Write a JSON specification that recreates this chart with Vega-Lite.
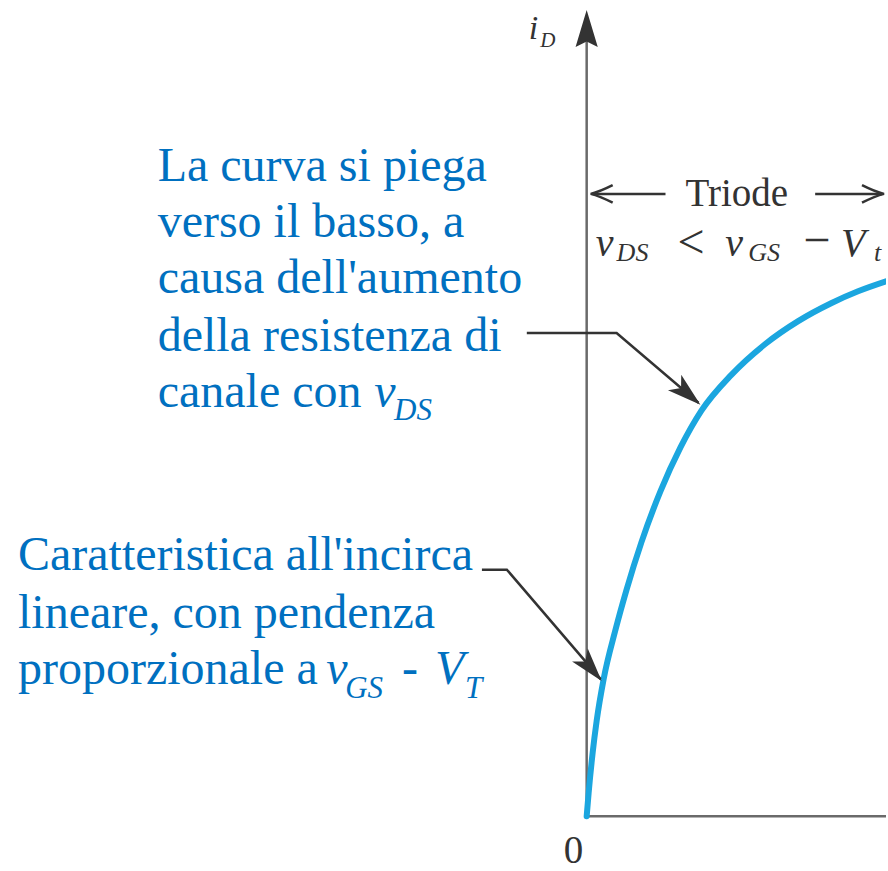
{
  "$schema": "https://vega.github.io/schema/vega-lite/v6.json",
  "width": 888,
  "height": 871,
  "autosize": {"type": "fit", "contains": "padding"},
  "padding": 0,
  "background": "white",
  "config": {"view": {"stroke": null}},
  "datasets": {
    "curve": [
      {"x": 0.00, "y": 0.00}, {"x": 0.02, "y": 0.24}, {"x": 0.06, "y": 0.64},
      {"x": 0.10, "y": 0.96}, {"x": 0.17, "y": 1.38}, {"x": 0.29, "y": 1.88},
      {"x": 0.40, "y": 2.28}, {"x": 0.55, "y": 2.76}, {"x": 0.74, "y": 3.27},
      {"x": 0.94, "y": 3.71}, {"x": 1.15, "y": 4.08}, {"x": 1.45, "y": 4.44},
      {"x": 1.79, "y": 4.75}, {"x": 2.12, "y": 4.98}, {"x": 2.45, "y": 5.16},
      {"x": 2.72, "y": 5.28}, {"x": 3.00, "y": 5.38}
    ],
    "axes": [
      {"x": 0, "y": 0, "x2": 0, "y2": 7.9},
      {"x": 0, "y": 0, "x2": 3.0, "y2": 0}
    ],
    "leaders": [
      {"id": "bend", "o": 1, "x": -0.60, "y": 4.86},
      {"id": "bend", "o": 2, "x": 0.30, "y": 4.86},
      {"id": "bend", "o": 3, "x": 1.12, "y": 4.16},
      {"id": "linear", "o": 1, "x": -1.05, "y": 2.48},
      {"id": "linear", "o": 2, "x": -0.80, "y": 2.48},
      {"id": "linear", "o": 3, "x": 0.14, "y": 1.38},
      {"id": "triodeL", "o": 1, "x": 0.06, "y": 6.26},
      {"id": "triodeL", "o": 2, "x": 0.79, "y": 6.26},
      {"id": "triodeR", "o": 1, "x": 2.29, "y": 6.26},
      {"id": "triodeR", "o": 2, "x": 2.96, "y": 6.26}
    ],
    "noteText": [
      {"x": -4.30, "y": 6.39, "t": "La curva si piega"},
      {"x": -4.30, "y": 5.83, "t": "verso il basso, a"},
      {"x": -4.30, "y": 5.26, "t": "causa dell'aumento"},
      {"x": -4.30, "y": 4.68, "t": "della resistenza di"},
      {"x": -4.30, "y": 4.12, "t": "canale con"},
      {"x": -5.70, "y": 2.48, "t": "Caratteristica all'incirca"},
      {"x": -5.70, "y": 1.89, "t": "lineare, con pendenza"},
      {"x": -5.70, "y": 1.33, "t": "proporzionale a"},
      {"x": -1.85, "y": 1.33, "t": "-"}
    ],
    "noteSym": [
      {"x": -2.13, "y": 4.12, "t": "v"},
      {"x": -2.61, "y": 1.33, "t": "v"},
      {"x": -1.52, "y": 1.33, "t": "V"}
    ],
    "noteSub": [
      {"x": -1.93, "y": 3.99, "t": "DS"},
      {"x": -2.42, "y": 1.19, "t": "GS"},
      {"x": -1.22, "y": 1.19, "t": "T"}
    ],
    "axisText": [
      {"x": 0.99, "y": 6.14, "t": "Triode"},
      {"x": -0.23, "y": -0.47, "t": "0"}
    ],
    "axisOps": [
      {"x": 0.91, "y": 5.62, "t": "<"},
      {"x": 2.17, "y": 5.64, "t": "−"}
    ],
    "axisSym": [
      {"x": 0.09, "y": 5.64, "t": "v"},
      {"x": 1.39, "y": 5.64, "t": "v"},
      {"x": 2.55, "y": 5.64, "t": "V"}
    ],
    "axisSub": [
      {"x": 0.30, "y": 5.58, "t": "DS"},
      {"x": 1.62, "y": 5.58, "t": "GS"},
      {"x": 2.88, "y": 5.58, "t": "t"}
    ],
    "iLabel": [{"x": -0.58, "y": 7.82, "t": "i"}],
    "iSub": [{"x": -0.465, "y": 7.74, "t": "D"}],
    "yTip": [{"x": 0, "y": 8.11}],
    "tipBend": [{"x": 1.14, "y": 4.14}],
    "tipLinear": [{"x": 0.15, "y": 1.36}],
    "tipLeft": [{"x": 0.04, "y": 6.26}],
    "tipRight": [{"x": 2.98, "y": 6.26}]
  },
  "encoding": {
    "x": {"field": "x", "type": "quantitative", "scale": {"domain": [-5.88, 3.0], "nice": false, "zero": false}, "axis": null},
    "y": {"field": "y", "type": "quantitative", "scale": {"domain": [-0.5, 8.21], "nice": false, "zero": false}, "axis": null}
  },
  "layer": [
    {
      "data": {"name": "axes"},
      "mark": {"type": "rule", "color": "#6a6a6a", "strokeWidth": 2.5},
      "encoding": {"x2": {"field": "x2"}, "y2": {"field": "y2"}}
    },
    {
      "data": {"name": "yTip"},
      "mark": {"type": "point", "shape": "M0,0 L0.6,2 L0,1.7 L-0.6,2 Z", "size": 1369, "filled": true, "opacity": 1, "color": "#333333", "strokeWidth": 0}
    },
    {
      "data": {"name": "curve"},
      "mark": {"type": "line", "color": "#1ba6df", "strokeWidth": 6, "interpolate": "monotone", "strokeCap": "round", "clip": true}
    },
    {
      "data": {"name": "leaders"},
      "mark": {"type": "line", "color": "#333333", "strokeWidth": 2.5, "clip": true},
      "encoding": {"detail": {"field": "id"}, "order": {"field": "o"}}
    },
    {
      "data": {"name": "tipBend"},
      "mark": {"type": "point", "shape": "M0,0 L0.6,2 L0,1.5 L-0.6,2 Z", "size": 1156, "angle": 130.6, "filled": true, "opacity": 1, "color": "#333333", "strokeWidth": 0}
    },
    {
      "data": {"name": "tipLinear"},
      "mark": {"type": "point", "shape": "M0,0 L0.6,2 L0,1.5 L-0.6,2 Z", "size": 1156, "angle": 140.3, "filled": true, "opacity": 1, "color": "#333333", "strokeWidth": 0}
    },
    {
      "data": {"name": "tipLeft"},
      "mark": {"type": "point", "shape": "M-0.8,2 Q-0.2,0.8 0,0 Q0.2,0.8 0.8,2", "size": 484, "angle": -90, "filled": false, "opacity": 1, "color": "#333333", "strokeWidth": 2.5}
    },
    {
      "data": {"name": "tipRight"},
      "mark": {"type": "point", "shape": "M-0.8,2 Q-0.2,0.8 0,0 Q0.2,0.8 0.8,2", "size": 484, "angle": 90, "filled": false, "opacity": 1, "color": "#333333", "strokeWidth": 2.5, "clip": true}
    },
    {
      "data": {"name": "noteText"},
      "mark": {"type": "text", "align": "left", "baseline": "alphabetic", "font": "Liberation Serif", "fontSize": 48, "color": "#0070c0"},
      "encoding": {"text": {"field": "t"}}
    },
    {
      "data": {"name": "noteSym"},
      "mark": {"type": "text", "align": "left", "baseline": "alphabetic", "font": "Liberation Serif", "fontStyle": "italic", "fontSize": 48, "color": "#0070c0"},
      "encoding": {"text": {"field": "t"}}
    },
    {
      "data": {"name": "noteSub"},
      "mark": {"type": "text", "align": "left", "baseline": "alphabetic", "font": "Liberation Serif", "fontStyle": "italic", "fontSize": 31, "color": "#0070c0"},
      "encoding": {"text": {"field": "t"}}
    },
    {
      "data": {"name": "axisText"},
      "mark": {"type": "text", "align": "left", "baseline": "alphabetic", "font": "Liberation Serif", "fontSize": 39, "color": "#333333"},
      "encoding": {"text": {"field": "t"}}
    },
    {
      "data": {"name": "axisOps"},
      "mark": {"type": "text", "align": "left", "baseline": "alphabetic", "font": "Liberation Serif", "fontSize": 48, "color": "#333333", "clip": true},
      "encoding": {"text": {"field": "t"}}
    },
    {
      "data": {"name": "axisSym"},
      "mark": {"type": "text", "align": "left", "baseline": "alphabetic", "font": "Liberation Serif", "fontStyle": "italic", "fontSize": 40, "color": "#333333", "clip": true},
      "encoding": {"text": {"field": "t"}}
    },
    {
      "data": {"name": "axisSub"},
      "mark": {"type": "text", "align": "left", "baseline": "alphabetic", "font": "Liberation Serif", "fontStyle": "italic", "fontSize": 26, "color": "#333333", "clip": true},
      "encoding": {"text": {"field": "t"}}
    },
    {
      "data": {"name": "iLabel"},
      "mark": {"type": "text", "align": "left", "baseline": "alphabetic", "font": "Liberation Serif", "fontStyle": "italic", "fontSize": 34, "color": "#333333"},
      "encoding": {"text": {"field": "t"}}
    },
    {
      "data": {"name": "iSub"},
      "mark": {"type": "text", "align": "left", "baseline": "alphabetic", "font": "Liberation Serif", "fontStyle": "italic", "fontSize": 21, "color": "#333333"},
      "encoding": {"text": {"field": "t"}}
    }
  ]
}
